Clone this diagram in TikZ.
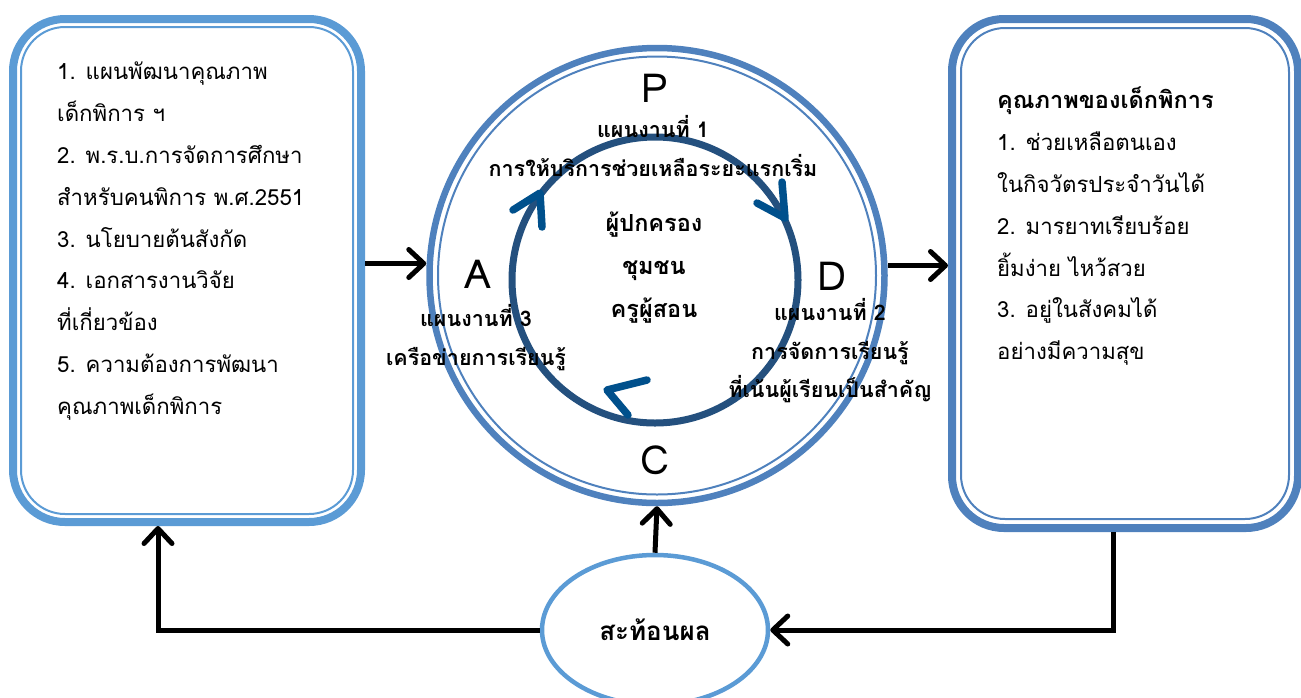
\documentclass[tikz,border=0pt]{standalone}
\usepackage{fontspec}
\setmainfont[Script=Thai]{Loma}
\usepackage{tikz}
\usetikzlibrary{positioning}
\usetikzlibrary{arrows.meta,shapes.geometric}

\definecolor{paleblue}{HTML}{5B9BD5}
\definecolor{steelblue}{HTML}{4F81BD}
\definecolor{navyring}{HTML}{24507E}
\definecolor{navytip}{HTML}{00508C}

\begin{document}
\begin{tikzpicture}[x=1pt,y=-1pt,
	boxframe/.style={draw, line width=8pt, rounded corners=52pt, inner sep=0pt},
	boxinner/.style={draw, line width=2pt, rounded corners=44pt, inner sep=0pt},
	flow/.style={line width=5pt, -{Straight Barb[length=15pt,width=28pt,round]}},
	cyclehead/.style={navytip, line width=7.5pt, line cap=round, line join=round},
	boxtext/.style={align=left, anchor=north west, inner sep=0pt, font=\fontsize{22.2}{41.8}\selectfont},
	plantext/.style={align=center, inner sep=0pt, font=\bfseries\fontsize{21.5}{38.5}\selectfont},
	pdca/.style={inner sep=0pt, font=\fontsize{40}{40}\selectfont},
]
	\useasboundingbox (0,0) rectangle (1301,697);
	
	% the two boxes: thick line outside, thin line inside
	\node[boxframe, draw=paleblue, minimum width=348, minimum height=503] (inbox) at (187,270.5) {};
	\node[boxinner, draw=paleblue, minimum width=332, minimum height=487] (inboxin) at (187,270.5) {};
	\node[boxframe, draw=steelblue, minimum width=346, minimum height=509] (outbox) at (1125,273.5) {};
	\node[boxinner, draw=steelblue, minimum width=328, minimum height=491] (outboxin) at (1125,273.5) {};
	
	% the big circle and the PDCA ring inside it
	\node[circle, draw=steelblue, line width=6.5pt, minimum size=455, inner sep=0pt] (ring) at (657,275.5) {};
	\node[circle, draw=steelblue, line width=2pt, minimum size=438, inner sep=0pt] (ringin) at (657,275.5) {};
	\node[circle, draw=navyring, line width=7pt, minimum size=286, inner sep=0pt] (cycle) at (655,280) {};
	
	% arrow heads on the ring, drawn by hand
	\draw[cyclehead] (513,210) -- (540,193) -- (542,227);
	\draw[cyclehead] (782,182) -- (785,218) -- (757,203);
	\draw[cyclehead] (647,380) -- (607,390) -- (628,415);
	
	\node[draw=paleblue, line width=4.5pt, ellipse, minimum width=226, minimum height=150,
		font=\bfseries\fontsize{26}{30}\selectfont] (refl) at (655,630) {สะท้อนผล};
	
	% letters of the cycle
	\node[pdca] (P) at (655,88) {P};
	\node[pdca] (A) at (478,274) {A};
	\node[pdca] (D) at (832,276) {D};
	\node[pdca] (C) at (655,460) {C};
	
	\node[plantext] (plan1) at (653,146) {แผนงานที่ 1\\การให้บริการช่วยเหลือระยะแรกเริ่ม};
	\node[plantext] (plan3) at (476,337.5) {แผนงานที่ 3\\เครือข่ายการเรียนรู้};
	\node[plantext] (plan2) at (830,351) {แผนงานที่ 2\\การจัดการเรียนรู้\\ที่เน้นผู้เรียนเป็นสำคัญ};
	\node[align=center, inner sep=0pt, font=\bfseries\fontsize{23.5}{43}\selectfont] (people) at (654,268)
		{ผู้ปกครอง\\ชุมชน\\ครูผู้สอน};
	
	\node[boxtext] (intext) at (57,62) {1. แผนพัฒนาคุณภาพ\\เด็กพิการ ฯ\\2. พ.ร.บ.การจัดการศึกษา\\สำหรับคนพิการ พ.ศ.2551\\3. นโยบายต้นสังกัด\\4. เอกสารงานวิจัย\\ที่เกี่ยวข้อง\\5. ความต้องการพัฒนา\\คุณภาพเด็กพิการ};
	\node[boxtext] (outtext) at (997,87) {{\bfseries\fontsize{23.5}{41.8}\selectfont คุณภาพของเด็กพิการ}\\1. ช่วยเหลือตนเอง\\ในกิจวัตรประจำวันได้\\2. มารยาทเรียบร้อย\\ยิ้มง่าย ไหว้สวย\\3. อยู่ในสังคมได้\\อย่างมีความสุข};
	
	% connectors
	\draw[flow] ([yshift=7pt]inbox.east) -- ([yshift=7pt]inbox.east -| ring.west);
	\draw[flow] ([yshift=10pt]ring.east) -- ([yshift=10pt]ring.east -| outbox.west);
	\draw[flow] (refl.north) -- (ring.south);
	\draw[flow] ([xshift=-12pt]outbox.south) |- (refl.east);
	\draw[flow] (refl.west) -| ([xshift=-29pt]inbox.south);
\end{tikzpicture}
\end{document}
